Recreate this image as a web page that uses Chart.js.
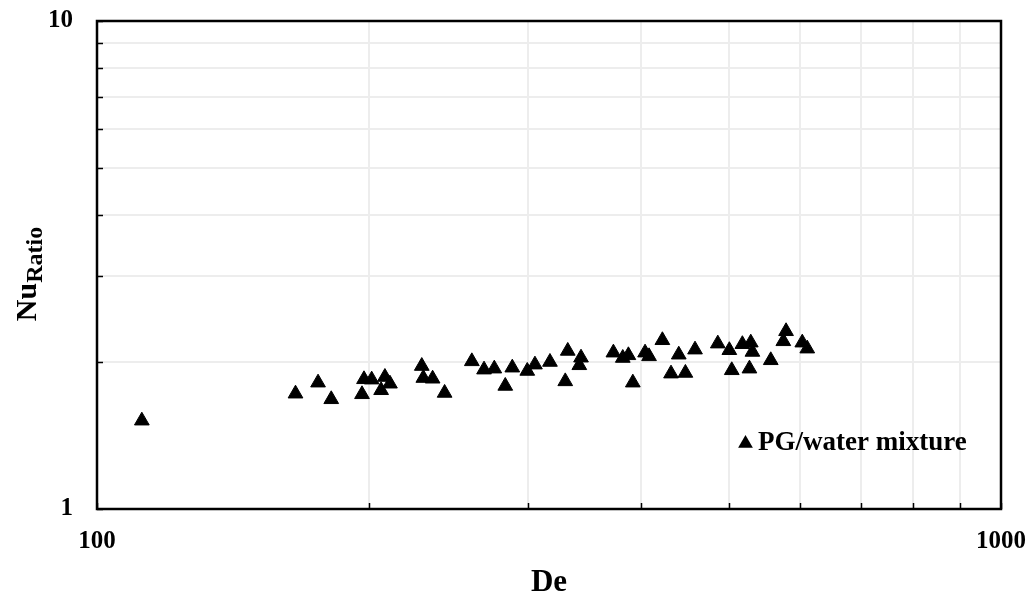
<!DOCTYPE html>
<html>
<head>
<meta charset="utf-8">
<script src="https://cdn.jsdelivr.net/npm/chart.js@4.4.0/dist/chart.umd.min.js"></script>
<style>
html, body { margin: 0; padding: 0; background: #fff; }
#wrap { width: 1031px; height: 596px; }
</style>
</head>
<body>
<div id="wrap"><canvas id="chart" width="1031" height="596"></canvas></div>
<script>
// Data
const deanNumber = [
    112.1, 165.8, 175.6, 181.6, 196.4, 197.4, 201.3, 206.2, 208.2, 210.9,
    228.7, 229.6, 235.1, 242.4, 259.8, 268.0, 275.1, 282.9, 288.0, 299.2,
    305.1, 317.0, 331.7, 329.6, 343.1, 341.6, 372.6, 381.6, 387.1, 391.5,
    403.9, 408.0, 422.1, 440.1, 431.5, 447.6, 458.7, 486.1, 500.6, 503.7,
    517.5, 528.7, 530.9, 526.9, 556.3, 578.4, 574.4, 602.8, 610.5
];
const nuRatio = [
    1.517, 1.723, 1.815, 1.678, 1.718, 1.844, 1.841, 1.751, 1.864, 1.806,
    1.963, 1.855, 1.849, 1.729, 2.007, 1.930, 1.939, 1.787, 1.948, 1.918,
    1.976, 2.001, 2.108, 1.826, 2.042, 1.970, 2.091, 2.039, 2.065, 1.815,
    2.091, 2.055, 2.217, 2.071, 1.894, 1.900, 2.121, 2.182, 2.115, 1.924,
    2.176, 2.192, 2.098, 1.939, 2.017, 2.313, 2.206, 2.192, 2.131
];
const seriesName = 'PG/water mixture';

// Axes
const xTicks = [100, 200, 300, 400, 500, 600, 700, 800, 900, 1000];
const xLabeled = [100, 1000];
const yTicks = [1, 2, 3, 4, 5, 6, 7, 8, 9, 10];
const yLabeled = [1, 10];
const xTitle = 'De';
const yTitle = 'Nu';
const yTitleSub = 'Ratio';

const serif = '"Liberation Serif", "Times New Roman", serif';
const gridColor = '#ededed';

// Frame, inside tick marks, axis titles and legend
const framePlugin = {
    id: 'frame',
    afterDraw(chart) {
        const { ctx, chartArea: a, scales: { x, y } } = chart;
        ctx.save();
        ctx.strokeStyle = '#000';
        ctx.lineWidth = 1.5;
        ctx.beginPath();
        xTicks.forEach(v => {
            const px = Math.round(x.getPixelForValue(v)) + 0.5;
            ctx.moveTo(px, a.bottom);
            ctx.lineTo(px, a.bottom - 6);
        });
        yTicks.forEach(v => {
            const py = Math.round(y.getPixelForValue(v)) + 0.5;
            ctx.moveTo(a.left, py);
            ctx.lineTo(a.left + 6, py);
        });
        ctx.stroke();

        ctx.lineWidth = 2.5;
        ctx.strokeRect(a.left, a.top, a.right - a.left, a.bottom - a.top);

        // x title
        ctx.fillStyle = '#000';
        ctx.font = 'bold 31px ' + serif;
        ctx.textAlign = 'center';
        ctx.textBaseline = 'alphabetic';
        ctx.fillText(xTitle, (a.left + a.right) / 2, 591);

        // y title with subscript
        ctx.save();
        ctx.translate(36, 274);
        ctx.rotate(-Math.PI / 2);
        ctx.textAlign = 'left';
        ctx.font = 'bold 30px ' + serif;
        const w1 = ctx.measureText(yTitle).width;
        ctx.font = 'bold 24px ' + serif;
        const w2 = ctx.measureText(yTitleSub).width;
        const sx = -(w1 + w2) / 2;
        ctx.font = 'bold 30px ' + serif;
        ctx.fillText(yTitle, sx, 0);
        ctx.font = 'bold 24px ' + serif;
        ctx.fillText(yTitleSub, sx + w1, 6);
        ctx.restore();

        // legend
        const lx = 745.5, ly = 443.5, r = 8.5;
        ctx.beginPath();
        ctx.moveTo(lx, ly - r);
        ctx.lineTo(lx + r * 0.866, ly + r * 0.5);
        ctx.lineTo(lx - r * 0.866, ly + r * 0.5);
        ctx.closePath();
        ctx.fill();
        ctx.font = 'bold 27px ' + serif;
        ctx.textAlign = 'left';
        ctx.fillText(seriesName, 758, 450);
        ctx.restore();
    }
};

const ctx = document.getElementById('chart').getContext('2d');
new Chart(ctx, {
    type: 'scatter',
    data: {
        datasets: [{
            label: seriesName,
            data: deanNumber.map((d, i) => ({ x: d, y: nuRatio[i] })),
            pointStyle: 'triangle',
            pointRadius: 8.5,
            backgroundColor: '#000',
            borderColor: '#000',
            borderWidth: 1
        }]
    },
    options: {
        responsive: false,
        animation: false,
        devicePixelRatio: 1,
        layout: { padding: { top: 21, right: 30, left: 0, bottom: 0 } },
        plugins: {
            legend: { display: false },
            tooltip: { enabled: false }
        },
        scales: {
            x: {
                type: 'logarithmic',
                min: 100,
                max: 1000,
                afterBuildTicks: s => { s.ticks = xTicks.map(v => ({ value: v })); },
                afterFit: s => { s.height = 87; s.paddingLeft = 0; s.paddingRight = 0; },
                ticks: {
                    autoSkip: false,
                    maxRotation: 0,
                    padding: 18,
                    color: '#000',
                    font: { family: serif, size: 25, weight: 'bold' },
                    callback: v => xLabeled.includes(v) ? String(v) : ''
                },
                grid: { color: gridColor, lineWidth: 2, drawTicks: false },
                border: { display: false }
            },
            y: {
                type: 'logarithmic',
                min: 1,
                max: 10,
                afterBuildTicks: s => { s.ticks = yTicks.map(v => ({ value: v })); },
                afterFit: s => { s.width = 97; s.paddingTop = 0; s.paddingBottom = 0; },
                ticks: {
                    autoSkip: false,
                    padding: 24,
                    color: '#000',
                    font: { family: serif, size: 25, weight: 'bold' },
                    callback: v => yLabeled.includes(v) ? String(v) : ''
                },
                grid: { color: gridColor, lineWidth: 2, drawTicks: false },
                border: { display: false }
            }
        }
    },
    plugins: [framePlugin]
});
</script>
</body>
</html>
